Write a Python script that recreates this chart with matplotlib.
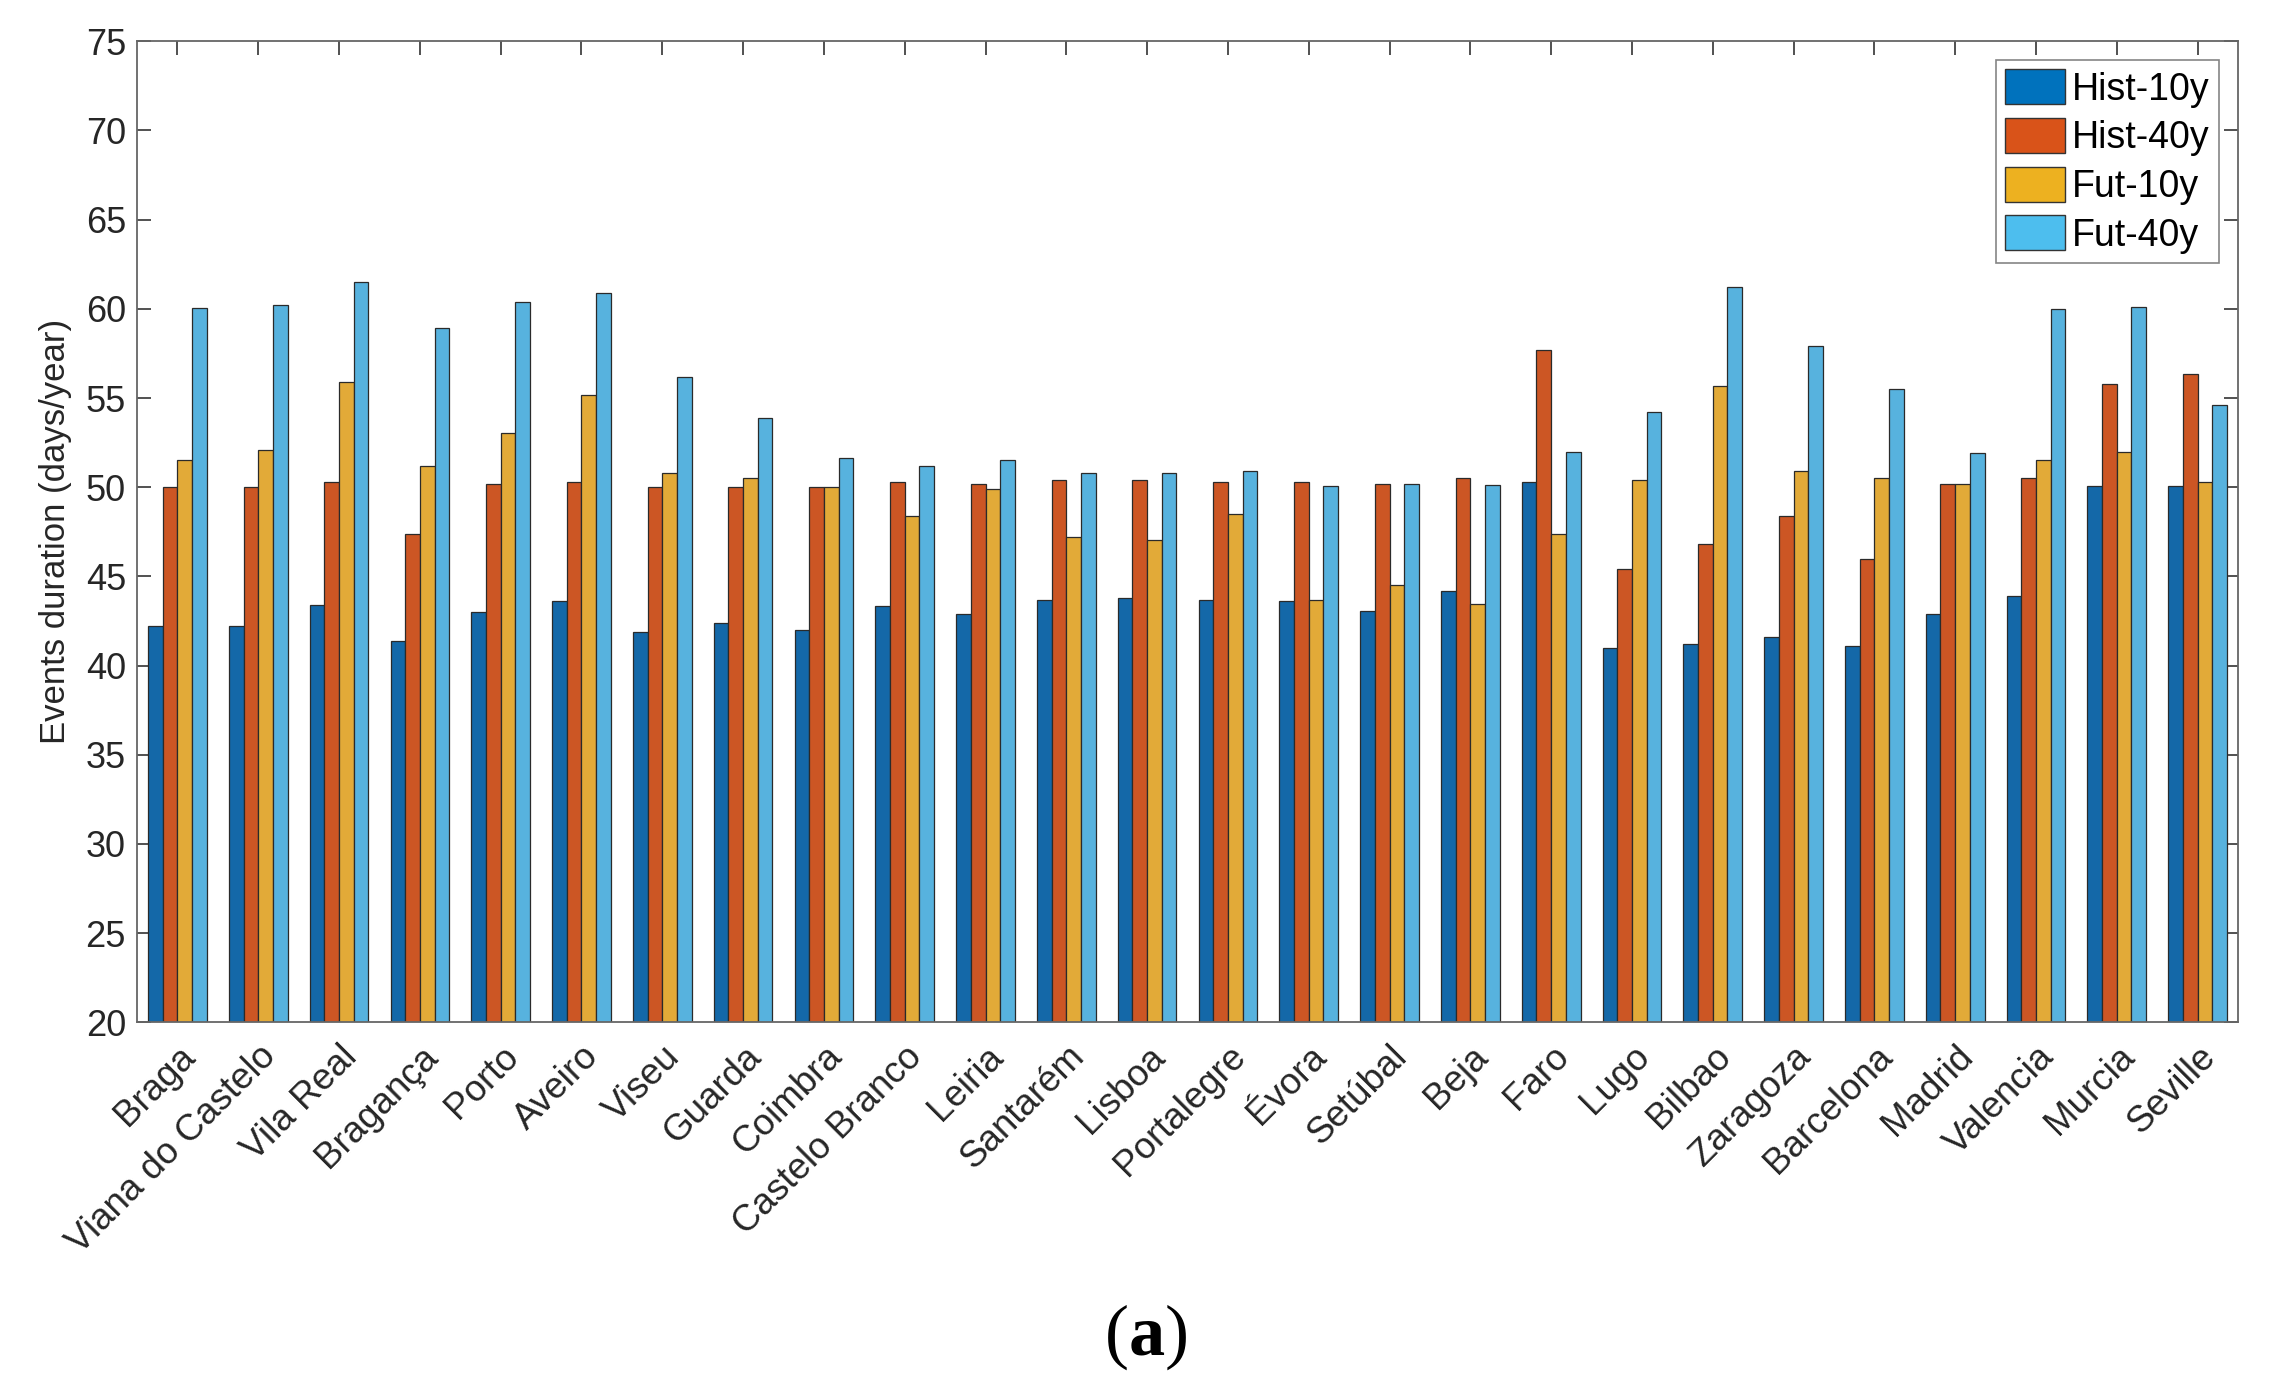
import numpy as np
import matplotlib.pyplot as plt
import matplotlib.transforms as mtransforms
from matplotlib.patches import Patch

# city names along the x axis
cities = ["Braga", "Viana do Castelo", "Vila Real", "Bragança", "Porto", "Aveiro",
          "Viseu", "Guarda", "Coimbra", "Castelo Branco", "Leiria", "Santarém",
          "Lisboa", "Portalegre", "Évora", "Setúbal", "Beja", "Faro", "Lugo",
          "Bilbao", "Zaragoza", "Barcelona", "Madrid", "Valencia", "Murcia", "Seville"]

# events duration (days/year)
hist_10y = [42.2, 42.2, 43.4, 41.4, 43.0, 43.6, 41.9, 42.4, 42.0, 43.35, 42.9, 43.65, 43.8,
            43.65, 43.6, 43.05, 44.2, 50.3, 41.0, 41.2, 41.6, 41.1, 42.9, 43.9, 50.05, 50.05]
hist_40y = [50.0, 50.0, 50.3, 47.4, 50.2, 50.3, 50.0, 50.0, 50.0, 50.3, 50.2, 50.4, 50.4,
            50.3, 50.3, 50.2, 50.5, 57.7, 45.4, 46.8, 48.4, 46.0, 50.2, 50.5, 55.8, 56.35]
fut_10y = [51.5, 52.1, 55.9, 51.2, 53.05, 55.15, 50.8, 50.5, 50.0, 48.4, 49.9, 47.2, 47.05,
           48.5, 43.65, 44.5, 43.45, 47.4, 50.4, 55.7, 50.9, 50.5, 50.2, 51.5, 52.0, 50.3]
fut_40y = [60.05, 60.2, 61.5, 58.9, 60.4, 60.9, 56.2, 53.9, 51.65, 51.2, 51.5, 50.8, 50.8,
           50.9, 50.05, 50.2, 50.1, 52.0, 54.2, 61.2, 57.9, 55.5, 51.9, 60.0, 60.1, 54.6]

series = [hist_10y, hist_40y, fut_10y, fut_40y]
labels = ["Hist-10y", "Hist-40y", "Fut-10y", "Fut-40y"]
colors = ["#0072BD", "#D95319", "#EDB120", "#4DBEEE"]
# bars look a little duller than the legend swatches in the original
bar_colors = ["#1468a8", "#cc5624", "#e2aa38", "#57b2de"]

plt.rcParams['font.family'] = ['Liberation Sans', 'DejaVu Sans']
plt.rcParams['mathtext.fontset'] = 'custom'
plt.rcParams['mathtext.rm'] = 'Liberation Serif'
plt.rcParams['mathtext.bf'] = 'Liberation Serif:bold'

fig = plt.figure(figsize=(22.73, 13.94), dpi=100)
ax = fig.add_axes([0.0603, 0.2666, 0.9243, 0.7038])

x = np.arange(1, len(cities) + 1)
w = 0.727 / 4
for i, (vals, col) in enumerate(zip(series, bar_colors)):
    ax.bar(x + (i - 1.5) * w, vals, width=w, color=col, edgecolor='#2a2a2a',
           linewidth=0.9, zorder=2)

ax.set_xlim(0.5, 26.5)
ax.set_ylim(20, 75)
ax.set_yticks(np.arange(20, 76, 5))
ax.set_xticks(x)
ax.set_xticklabels(cities, rotation=45, ha='right', va='top', rotation_mode='anchor',
                   fontsize=26.5, color='#262626')
# labels sit a bit right of their ticks in the original
shift = mtransforms.ScaledTranslation(9 / 100, 0, fig.dpi_scale_trans)
for t in ax.get_xticklabels():
    t.set_transform(t.get_transform() + shift)
ax.tick_params(axis='y', labelsize=26, labelcolor='#262626', pad=8)
ax.tick_params(direction='in', length=10, width=1.2, color='#333333',
               top=True, right=True, zorder=5)
ax.tick_params(axis='x', pad=12)
for s in ax.spines.values():
    s.set_color('#666666')
    s.set_linewidth(1.3)
    s.set_zorder(5)
ax.set_ylabel("Events duration (days/year)", fontsize=25, color='#262626', labelpad=10)

handles = [Patch(facecolor=c, edgecolor='#333333', linewidth=1.0) for c in colors]
leg = ax.legend(handles, labels, loc='upper right', fontsize=27,
                frameon=True, fancybox=False, handlelength=1.58, handleheight=1.05,
                handletextpad=0.2, labelspacing=0.28, borderpad=0.25, borderaxespad=0.5)
leg.get_frame().set_edgecolor('#666666')
leg.get_frame().set_linewidth(1.2)

fig.text(0.504, 0.041, r"$\mathrm{(}\mathbf{a}\mathrm{)}$", ha='center', va='center',
         fontsize=52)

fig.savefig("out.png", dpi=100)
